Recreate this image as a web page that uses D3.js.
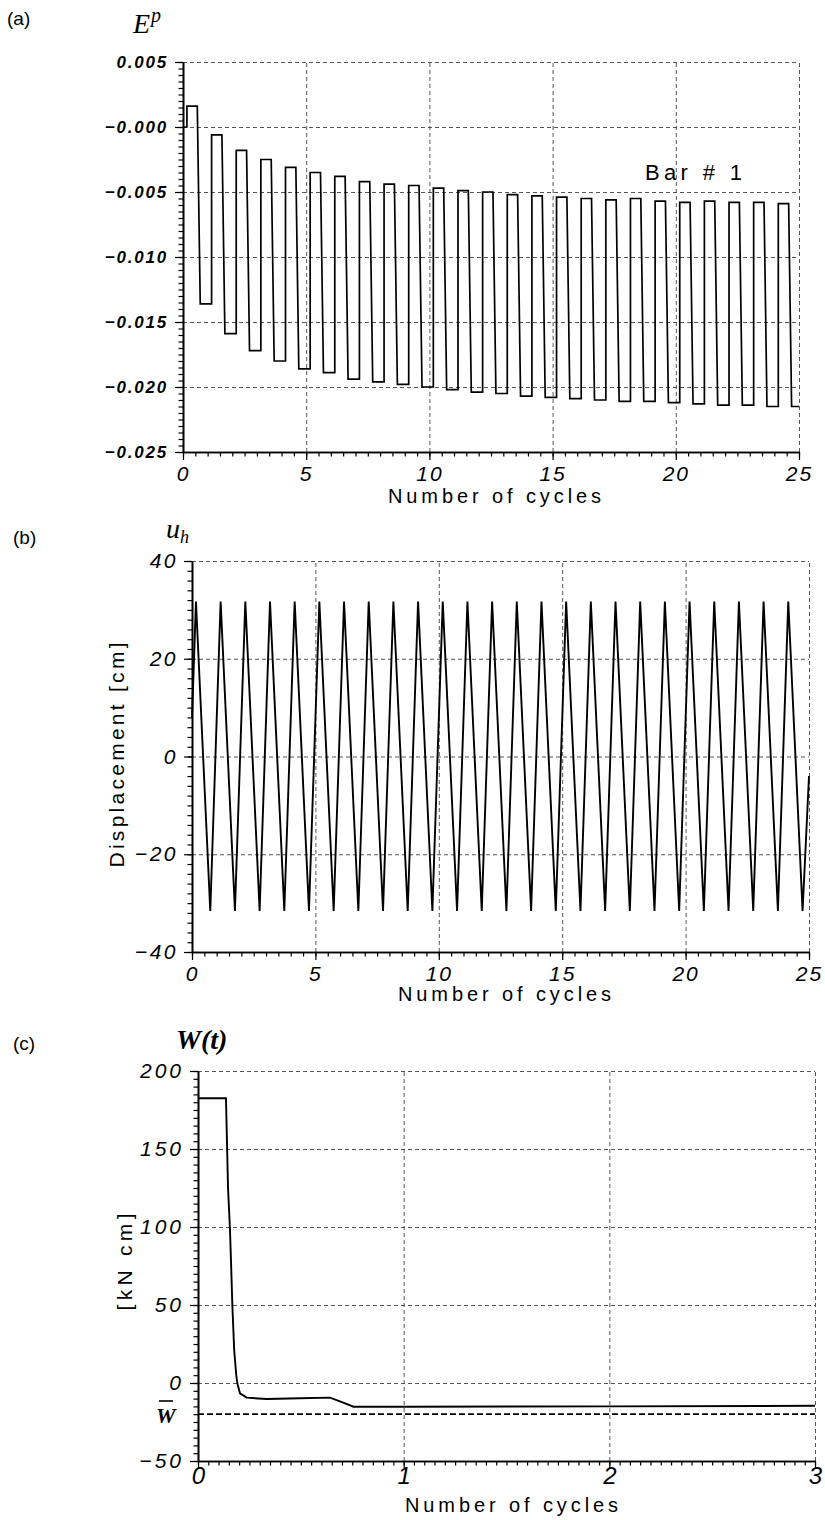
<!DOCTYPE html>
<html><head><meta charset="utf-8">
<script src="https://cdn.jsdelivr.net/npm/d3@7"></script>
<style>body{margin:0;background:#fff} svg{display:block;background:#fff}</style>
</head><body><svg id="c" width="825" height="1520"></svg>
<script>
// ---------- DATA ----------
// Panel (a): plastic strain E^p of bar #1, one high and one low plateau per cycle
const epCycles = [0,1,2,3,4,5,6,7,8,9,10,11,12,13,14,15,16,17,18,19,20,21,22,23,24];
const epHigh = [0.0016,-0.0006,-0.0018,-0.0025,-0.0031,-0.0035,-0.0038,-0.0042,-0.0044,-0.0045,
  -0.0047,-0.0049,-0.0050,-0.0052,-0.0053,-0.0054,-0.0055,-0.0056,-0.0055,-0.0057,
  -0.0058,-0.0057,-0.0058,-0.0058,-0.0059];
const epLow = [-0.0136,-0.0159,-0.0172,-0.0180,-0.0186,-0.0189,-0.0194,-0.0196,-0.0198,-0.0200,
  -0.0202,-0.0204,-0.0205,-0.0207,-0.0208,-0.0209,-0.0210,-0.0211,-0.0211,-0.0212,
  -0.0213,-0.0214,-0.0214,-0.0215,-0.0215];
const epStart = 0.0;          // value before the first step
const epRise = 0.16;          // cycle phase of the upward jump
const epDropStart = 0.58;     // cycle phase where the downward step begins
const epDropEnd = 0.70;       // cycle phase where the downward step ends
const epYTicks = [-0.025,-0.020,-0.015,-0.010,-0.005,0,0.005];
const epYLabels = ["−0.025","−0.020","−0.015","−0.010","−0.005","−0.000","0.005"];
const cycTicks25 = [0,5,10,15,20,25];
const cycLabels25 = ["0","5","10","15","20","25"];

// Panel (b): displacement u_h, one peak and one trough per cycle
const uhCycles = [0,1,2,3,4,5,6,7,8,9,10,11,12,13,14,15,16,17,18,19,20,21,22,23,24];
const uhPeak = [31.7,31.7,31.7,31.7,31.7,31.7,31.7,31.7,31.7,31.7,31.7,31.7,31.7,31.7,31.7,
  31.7,31.7,31.7,31.7,31.7,31.7,31.7,31.7,31.7,31.7];
const uhTrough = [-31.6,-31.6,-31.6,-31.6,-31.6,-31.6,-31.6,-31.6,-31.6,-31.6,-31.6,-31.6,-31.6,
  -31.6,-31.6,-31.6,-31.6,-31.6,-31.6,-31.6,-31.6,-31.6,-31.6,-31.6,-31.6];
const uhPeakPhase = 0.16;
const uhTroughPhase = 0.74;
const uhStart = 8;
const uhEnd = -4;
const uhYTicks = [-40,-20,0,20,40];
const uhYLabels = ["−40","−20","0","20","40"];

// Panel (c): W(t)
const wT = [0,0.136,0.146,0.155,0.160,0.167,0.176,0.186,0.191,0.204,0.237,0.334,0.496,0.642,0.706,0.756,1.0,2.0,3.0];
const wV = [182.5,182.5,125,100,80,50,21,5,0,-6.6,-9.4,-10.3,-9.8,-9.4,-12.6,-15.2,-15.2,-15.0,-14.6];
const wBar = -20;
const wYTicks = [-50,0,50,100,150,200];
const wYLabels = ["−50","0","50","100","150","200"];
const wXTicks = [0,1,2,3];
const wXLabels = ["0","1","2","3"];

// ---------- DRAWING ----------
const svg = d3.select("#c");
const SANS = "'Liberation Sans', Arial, sans-serif";
const SERIF = "'Liberation Serif', 'Times New Roman', serif";

function panel(o){
  const g = svg.append("g");
  const x = d3.scaleLinear().domain(o.xDom).range([o.x0, o.x1]);
  const y = d3.scaleLinear().domain(o.yDom).range([o.yB, o.yT]);
  const W = o.x1 - o.x0, H = o.yB - o.yT;
  const dash = s => { s.select(".domain").remove();
    s.selectAll("line").attr("stroke","#444").attr("stroke-width",0.9).attr("stroke-dasharray","4,3"); };
  // grid
  g.append("g").attr("transform",`translate(${o.x0},0)`)
    .call(d3.axisLeft(y).tickValues(o.yTicks.slice(1)).tickSize(-W).tickFormat("")).call(dash);
  g.append("g").attr("transform",`translate(0,${o.yB})`)
    .call(d3.axisBottom(x).tickValues(o.xTicks.slice(1)).tickSize(-H).tickFormat("")).call(dash);
  // minor ticks
  const yMin = d3.range(o.yDom[0], o.yDom[1] + o.yMinorStep/2, o.yMinorStep);
  const xMin = d3.range(o.xDom[0], o.xDom[1] + o.xMinorStep/2, o.xMinorStep);
  const solid = s => { s.select(".domain").attr("stroke","#000").attr("stroke-width",1.6);
    s.selectAll("line").attr("stroke","#000").attr("stroke-width",1.2); };
  g.append("g").attr("transform",`translate(${o.x0},0)`)
    .call(d3.axisLeft(y).tickValues(yMin).tickSize(4.5).tickSizeOuter(0).tickFormat("")).call(solid);
  g.append("g").attr("transform",`translate(0,${o.yB})`)
    .call(d3.axisBottom(x).tickValues(xMin).tickSize(4.5).tickSizeOuter(0).tickFormat("")).call(solid);
  // major ticks + labels
  const ya = g.append("g").attr("transform",`translate(${o.x0},0)`)
    .call(d3.axisLeft(y).tickValues(o.yTicks).tickSize(8).tickSizeOuter(0).tickPadding(o.yPad)
      .tickFormat((d,i)=>o.yLabels[i])).call(solid);
  ya.selectAll("text").attr("font-family",SANS).attr("font-style","italic")
    .attr("font-weight",o.yBold?"bold":"normal").attr("font-size",o.yFs).attr("letter-spacing",o.yLs)
    .attr("fill","#000");
  const xa = g.append("g").attr("transform",`translate(0,${o.yB})`)
    .call(d3.axisBottom(x).tickValues(o.xTicks).tickSize(o.xTickLen).tickSizeOuter(0).tickPadding(o.xPad)
      .tickFormat((d,i)=>o.xLabels[i])).call(solid);
  xa.selectAll("text").attr("font-family",SANS).attr("font-style","italic")
    .attr("font-size",o.xFs).attr("letter-spacing",o.xLs).attr("fill","#000");
  // x title
  g.append("text").attr("x",o.xtX).attr("y",o.xtY).attr("font-family",SANS).attr("font-size",20)
    .attr("textLength",213).attr("lengthAdjust","spacing").text("Number of cycles");
  return {g,x,y};
}

// ----- Panel (a)
{
  const p = panel({xDom:[0,25], yDom:[-0.025,0.005], x0:183, x1:799, yB:452, yT:62,
    yTicks:epYTicks, yLabels:epYLabels, xTicks:cycTicks25, xLabels:cycLabels25,
    yMinorStep:0.0005, xMinorStep:0.5, yPad:7, yBold:true, yFs:17, yLs:1.8,
    xTickLen:8, xPad:6, xFs:21, xLs:2, xtX:388, xtY:503});
  const pts = [[0, epStart],[epRise, epStart]];
  epCycles.forEach((c,i)=>{
    pts.push([c+epRise, epHigh[i]],[c+epDropStart, epHigh[i]],[c+epDropEnd, epLow[i]]);
    pts.push([Math.min(c+1+epRise, 25), epLow[i]]);
  });
  p.g.append("path").datum(pts).attr("fill","none").attr("stroke","#000").attr("stroke-width",1.7)
    .attr("stroke-linejoin","miter")
    .attr("d", d3.line().x(d=>p.x(d[0])).y(d=>p.y(d[1])));
  svg.append("text").attr("x",645).attr("y",180).attr("font-family",SANS).attr("font-size",22)
    .attr("textLength",97).attr("lengthAdjust","spacing").text("Bar # 1");
  svg.append("text").attr("x",7).attr("y",25).attr("font-family",SANS).attr("font-size",19).text("(a)");
  const t = svg.append("text").attr("x",133).attr("y",33).attr("font-family",SERIF).attr("font-style","italic").attr("font-size",28);
  t.append("tspan").text("E");
  t.append("tspan").attr("font-size",20).attr("dy",-11).attr("dx",1).text("p");
}

// ----- Panel (b)
{
  const p = panel({xDom:[0,25], yDom:[-40,40], x0:192, x1:809, yB:952, yT:561,
    yTicks:uhYTicks, yLabels:uhYLabels, xTicks:cycTicks25, xLabels:cycLabels25,
    yMinorStep:2, xMinorStep:0.5, yPad:6, yBold:false, yFs:21, yLs:2.5,
    xTickLen:8, xPad:6, xFs:21, xLs:2, xtX:398, xtY:1001});
  const pts = [[0, uhStart]];
  uhCycles.forEach((c,i)=>{
    pts.push([c+uhPeakPhase, uhPeak[i]],[c+uhTroughPhase, uhTrough[i]]);
  });
  pts.push([25, uhEnd]);
  p.g.append("path").datum(pts).attr("fill","none").attr("stroke","#000").attr("stroke-width",1.9)
    .attr("d", d3.line().x(d=>p.x(d[0])).y(d=>p.y(d[1])));
  svg.append("text").attr("x",13).attr("y",544).attr("font-family",SANS).attr("font-size",19).text("(b)");
  const t = svg.append("text").attr("x",166).attr("y",538).attr("font-family",SERIF).attr("font-style","italic").attr("font-size",28);
  t.append("tspan").text("u");
  t.append("tspan").attr("font-size",18).attr("dy",5).text("h");
  svg.append("text").attr("transform","translate(124,755) rotate(-90)").attr("text-anchor","middle")
    .attr("font-family",SANS).attr("font-size",21).attr("textLength",225).attr("lengthAdjust","spacing")
    .text("Displacement [cm]");
}

// ----- Panel (c)
{
  const p = panel({xDom:[0,3], yDom:[-50,200], x0:198, x1:815, yB:1461, yT:1071,
    yTicks:wYTicks, yLabels:wYLabels, xTicks:wXTicks, xLabels:wXLabels,
    yMinorStep:5, xMinorStep:0.05, yPad:6, yBold:false, yFs:21, yLs:3,
    xTickLen:7, xPad:-1, xFs:24, xLs:0, xtX:405, xtY:1512});
  p.g.append("path").datum(wT.map((t,i)=>[t,wV[i]])).attr("fill","none").attr("stroke","#000")
    .attr("stroke-width",1.9).attr("d", d3.line().x(d=>p.x(d[0])).y(d=>p.y(d[1])));
  p.g.append("line").attr("x1",p.x(0)).attr("x2",p.x(3)).attr("y1",p.y(wBar)).attr("y2",p.y(wBar))
    .attr("stroke","#000").attr("stroke-width",1.7).attr("stroke-dasharray","6,3");
  svg.append("text").attr("x",13).attr("y",1050).attr("font-family",SANS).attr("font-size",19).text("(c)");
  svg.append("text").attr("x",176).attr("y",1049).attr("font-family",SERIF).attr("font-style","italic")
    .attr("font-weight","bold").attr("font-size",28).text("W(t)");
  svg.append("text").attr("x",156).attr("y",1423).attr("font-family",SERIF).attr("font-style","italic")
    .attr("font-weight","bold").attr("font-size",22).text("W");
  svg.append("line").attr("x1",159).attr("x2",173).attr("y1",1401).attr("y2",1401).attr("stroke","#000").attr("stroke-width",1.6);
  svg.append("text").attr("transform","translate(132,1262) rotate(-90)").attr("text-anchor","middle")
    .attr("font-family",SANS).attr("font-size",21).attr("textLength",97).attr("lengthAdjust","spacing")
    .text("[kN cm]");
}
</script></body></html>
